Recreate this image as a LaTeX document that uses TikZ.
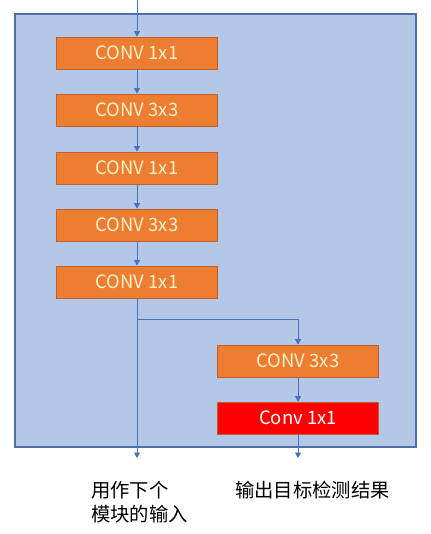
\documentclass[tikz,border=0pt]{standalone}
\usepackage{fontspec}
\usepackage{xcolor}
\usetikzlibrary{arrows.meta,positioning}
\newfontfamily\cjk{Noto Sans CJK SC}
\definecolor{PanelFill}{HTML}{B4C7E7}
\definecolor{PanelEdge}{HTML}{4F6FA8}
\definecolor{Flow}{HTML}{4472C4}
\definecolor{ConvOrange}{HTML}{ED7D31}
\definecolor{ConvEdge}{HTML}{C0612B}
\definecolor{ConvText}{HTML}{FFF2CC}
\definecolor{HeadRed}{HTML}{FF0000}

\begin{document}
\begin{tikzpicture}[x=0.02cm,y=-0.02cm,
  conv/.style={draw=ConvEdge,fill=ConvOrange,minimum width=3.22cm,
    minimum height=0.64cm,inner sep=0pt,font=\cjk\fontsize{10.5}{12}\selectfont,
    text=ConvText},
  head/.style={conv,draw=ConvEdge,fill=HeadRed,text=white},
  flow/.style={-{Triangle[length=1.1mm,width=1.2mm]},color=Flow,line width=0.5pt},
  note/.style={font=\cjk\fontsize{11}{13.5}\selectfont,align=left,text=black}
]
\useasboundingbox (0,0) rectangle (431,534);
% Panel behind the detection block.
\draw[PanelEdge,fill=PanelFill,line width=0.6pt] (15,14) rectangle (416,447);

% Main trunk: five stacked convolutions.
\coordinate (in) at (137,0);
\node[conv] (c1) at (137,53) {CONV 1x1};
\node[conv] (c2) at (137,110) {CONV 3x3};
\node[conv] (c3) at (137,168) {CONV 1x1};
\node[conv] (c4) at (137,225) {CONV 3x3};
\node[conv] (c5) at (137,282) {CONV 1x1};
\draw[flow] (in)--(c1);
\draw[flow] (c1)--(c2);
\draw[flow] (c2)--(c3);
\draw[flow] (c3)--(c4);
\draw[flow] (c4)--(c5);

% Detection head branch.
\coordinate (split) at (137,319);
\node[conv] (d1) at (298,361) {CONV 3x3};
\node[head] (d2) at (298,418) {Conv 1x1};
\draw[color=Flow,line width=0.5pt] (c5)--(split);
\draw[flow] (split)-|(d1);
\draw[flow] (d1)--(d2);

% Outputs.
\coordinate (outL) at (137,458);
\coordinate (outR) at (298,458);
\draw[flow] (split)--(outL);
\draw[flow] (d2)--(outR);
\node[note,anchor=north west] (nextin) at (85,475) {用作下个\\模块的输入};
\node[note,anchor=north west] (detout) at (229,475) {输出目标检测结果};
\end{tikzpicture}
\end{document}
